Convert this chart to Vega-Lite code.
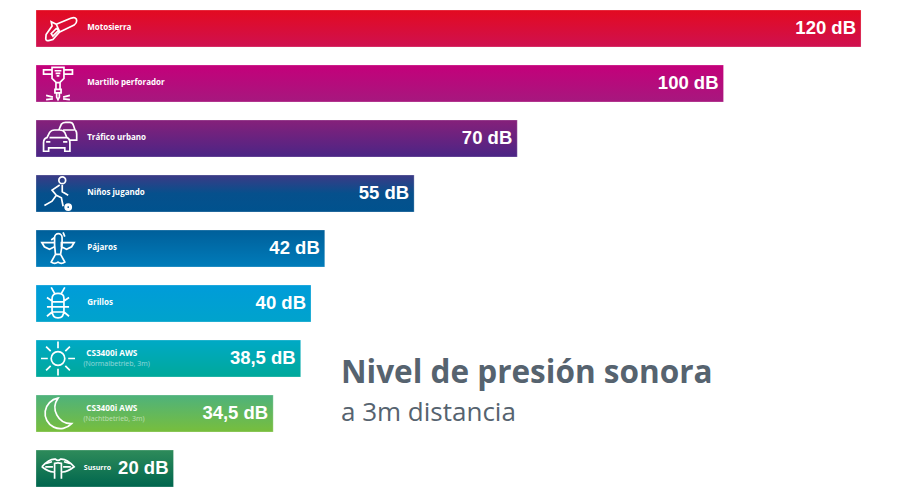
{
  "$schema": "https://vega.github.io/schema/vega-lite/v6.json",
  "description": "Nivel de presion sonora a 3m de distancia",
  "background": "#ffffff",
  "width": 864,
  "height": 477,
  "autosize": "none",
  "padding": {"left": 36, "top": 10, "right": 0, "bottom": 6},
  "config": {"view": {"stroke": null}},
  "data": {"values": [
    {"nombre": "Motosierra", "linea": "Motosierra", "db": 120, "etiqueta": "120 dB"},
    {"nombre": "Martillo perforador", "linea": "Martillo perforador", "db": 100, "etiqueta": "100 dB"},
    {"nombre": "Tráfico urbano", "linea": "Tráfico urbano", "db": 70, "etiqueta": "70 dB"},
    {"nombre": "Niños jugando", "linea": "Niños jugando", "db": 55, "etiqueta": "55 dB"},
    {"nombre": "Pájaros", "linea": "Pájaros", "db": 42, "etiqueta": "42 dB"},
    {"nombre": "Grillos", "linea": "Grillos", "db": 40, "etiqueta": "40 dB"},
    {"nombre": "CS3400i dia", "linea": "CS3400i AWS", "sub": "(Normalbetrieb, 3m)", "db": 38.5, "etiqueta": "38,5 dB"},
    {"nombre": "CS3400i noche", "linea": "CS3400i AWS", "sub": "(Nachtbetrieb, 3m)", "db": 34.5, "etiqueta": "34,5 dB"},
    {"nombre": "Susurro", "linea": "Susurro", "db": 20, "etiqueta": "20 dB"}
  ]},
  "encoding": {
    "y": {
      "field": "nombre",
      "type": "nominal",
      "axis": null,
      "scale": {
        "domain": ["Motosierra", "Martillo perforador", "Tráfico urbano", "Niños jugando", "Pájaros", "Grillos", "CS3400i dia", "CS3400i noche", "Susurro"],
        "paddingInner": 0.327,
        "paddingOuter": 0
      }
    },
    "x": {"field": "db", "type": "quantitative", "axis": null, "scale": {"domain": [0, 125.67], "nice": false}}
  },
  "layer": [
    {
      "transform": [{"filter": "datum.nombre === 'Motosierra'"}],
      "mark": {"type": "bar", "stroke": "#ffffff", "strokeOpacity": 0.25, "color": {"gradient": "linear", "x1": 0, "y1": 0, "x2": 0, "y2": 1, "stops": [{"offset": 0, "color": "#e30a20"}, {"offset": 1, "color": "#cf1150"}]}}
    },
    {
      "transform": [{"filter": "datum.nombre === 'Martillo perforador'"}],
      "mark": {"type": "bar", "stroke": "#ffffff", "strokeOpacity": 0.25, "color": {"gradient": "linear", "x1": 0, "y1": 0, "x2": 0, "y2": 1, "stops": [{"offset": 0, "color": "#c4007a"}, {"offset": 1, "color": "#a6187e"}]}}
    },
    {
      "transform": [{"filter": "datum.nombre === 'Tráfico urbano'"}],
      "mark": {"type": "bar", "stroke": "#ffffff", "strokeOpacity": 0.25, "color": {"gradient": "linear", "x1": 0, "y1": 0, "x2": 0, "y2": 1, "stops": [{"offset": 0, "color": "#86207a"}, {"offset": 1, "color": "#4a2585"}]}}
    },
    {
      "transform": [{"filter": "datum.nombre === 'Niños jugando'"}],
      "mark": {"type": "bar", "stroke": "#ffffff", "strokeOpacity": 0.25, "color": {"gradient": "linear", "x1": 0, "y1": 0, "x2": 0, "y2": 1, "stops": [{"offset": 0, "color": "#3c3a86"}, {"offset": 0.5, "color": "#06508c"}, {"offset": 1, "color": "#00528e"}]}}
    },
    {
      "transform": [{"filter": "datum.nombre === 'Pájaros'"}],
      "mark": {"type": "bar", "stroke": "#ffffff", "strokeOpacity": 0.25, "color": {"gradient": "linear", "x1": 0, "y1": 0, "x2": 0, "y2": 1, "stops": [{"offset": 0, "color": "#005f9a"}, {"offset": 1, "color": "#007cba"}]}}
    },
    {
      "transform": [{"filter": "datum.nombre === 'Grillos'"}],
      "mark": {"type": "bar", "stroke": "#ffffff", "strokeOpacity": 0.25, "color": {"gradient": "linear", "x1": 0, "y1": 0, "x2": 0, "y2": 1, "stops": [{"offset": 0, "color": "#009cd9"}, {"offset": 1, "color": "#00a3cc"}]}}
    },
    {
      "transform": [{"filter": "datum.nombre === 'CS3400i dia'"}],
      "mark": {"type": "bar", "stroke": "#ffffff", "strokeOpacity": 0.25, "color": {"gradient": "linear", "x1": 0, "y1": 0, "x2": 0, "y2": 1, "stops": [{"offset": 0, "color": "#00a9c6"}, {"offset": 1, "color": "#00a99a"}]}}
    },
    {
      "transform": [{"filter": "datum.nombre === 'CS3400i noche'"}],
      "mark": {"type": "bar", "stroke": "#ffffff", "strokeOpacity": 0.25, "color": {"gradient": "linear", "x1": 0, "y1": 0, "x2": 0, "y2": 1, "stops": [{"offset": 0, "color": "#4eb27c"}, {"offset": 1, "color": "#78be3c"}]}}
    },
    {
      "transform": [{"filter": "datum.nombre === 'Susurro'"}],
      "mark": {"type": "bar", "stroke": "#ffffff", "strokeOpacity": 0.25, "color": {"gradient": "linear", "x1": 0, "y1": 0, "x2": 0, "y2": 1, "stops": [{"offset": 0, "color": "#2e8b5a"}, {"offset": 1, "color": "#00664e"}]}}
    },
    {
      "mark": {"type": "point", "filled": false, "stroke": "#ffffff", "strokeWidth": 1.7, "size": 1156, "opacity": 1},
      "encoding": {
        "x": {"datum": 3.2, "type": "quantitative"},
        "shape": {
          "field": "nombre",
          "type": "nominal",
          "legend": null,
          "scale": {
            "domain": ["Motosierra", "Martillo perforador", "Tráfico urbano", "Niños jugando", "Pájaros", "Grillos", "CS3400i dia", "CS3400i noche", "Susurro"],
            "range": [
              "M-0.1,-0.25L0.75,-0.6Q1.1,-0.72 1.1,-0.45Q1.1,-0.3 0.95,-0.2L0.1,0.2M-0.1,-0.25L-0.4,-0.4L-0.35,-0.15L-0.7,0.35L-0.72,0.6Q-0.72,0.75 -0.5,0.7L-0.3,0.65L0.1,0.2ZM-0.4,0.3L-0.1,0L0.05,0.1L-0.3,0.45Z",
              "M-0.85,-0.8H-0.35V-0.55H-0.85ZM0.35,-0.8H0.85V-0.55H0.35ZM-0.35,-0.95H0.35V-0.3L0.1,-0.05H-0.1L-0.35,-0.3ZM-0.12,-0.05V0.35H0.12V-0.05M-0.18,0.35H0.18V0.55H-0.18ZM-0.08,0.55V0.8L0,0.95L0.08,0.8V0.55M-0.7,0.7L-0.3,0.8M-0.7,0.95L-0.3,0.9M0.7,0.7L0.3,0.8M0.7,0.95L0.3,0.9M-0.2,-0.75H0.2M-0.14,-0.6H0.14M-0.08,-0.45H0.08",
              "M-0.85,0.75V0.25Q-0.85,0 -0.65,-0.05L-0.5,-0.35Q-0.4,-0.5 -0.2,-0.5H0.1Q0.3,-0.5 0.4,-0.35L0.52,-0.05Q0.7,0 0.7,0.25V0.75H0.4V0.55H-0.55V0.75ZM-0.5,-0.05H0.5M-0.7,0.2H-0.45M0.3,0.2H0.55M0.05,-0.5L0.2,-0.85Q0.3,-0.95 0.45,-0.95H0.7Q0.85,-0.95 0.9,-0.8L1,-0.5Q1.1,-0.45 1.1,-0.25V0.1H0.7M0.3,-0.5H0.95",
              "M0.05,-0.78a0.2,0.2 0 1,0 0.4,0a0.2,0.2 0 1,0 -0.4,0M0.1,-0.5L-0.35,-0.2L-0.1,0.1L-0.35,0.45L-0.8,0.7M0.25,-0.5L0.25,-0.1L0.6,0.1M-0.1,0.1L0.2,0.25L0.3,0.75M0.5,0.8a0.1,0.1 0 1,0 0.2,0a0.1,0.1 0 1,0 -0.2,0M0.42,0.8a0.18,0.18 0 1,0 0.36,0a0.18,0.18 0 1,0 -0.36,0",
              "M-0.2,-0.65a0.22,0.22 0 1,1 0.44,0V-0.2L0.15,0.35H-0.15L-0.2,-0.2ZM-0.2,-0.65L-0.4,-0.5M-0.95,-0.35H-0.2V-0.1L-0.5,0.05L-0.8,-0.1ZM0.95,-0.35H0.2V-0.1L0.5,0.05L0.8,-0.1ZM-0.15,0.35L-0.4,0.8Q-0.2,0.95 0,0.8Q0.2,0.95 0.4,0.8L0.15,0.35M0.3,-0.95L0.4,-0.7",
              "M-0.35,-0.3Q-0.35,-0.6 0,-0.6Q0.35,-0.6 0.35,-0.3V0.4Q0.35,0.85 0,0.85Q-0.35,0.85 -0.35,0.4ZM-0.2,-0.6L-0.4,-0.95M0.2,-0.6L0.4,-0.95M-0.35,-0.15L-0.65,-0.35M0.35,-0.15L0.65,-0.35M-0.35,0.2H-0.65M0.35,0.2H0.65M-0.35,0.5L-0.65,0.75M0.35,0.5L0.65,0.75M-0.35,-0.1H0.35M-0.35,0.2H0.35M-0.35,0.5H0.35",
              "M-0.4,0a0.4,0.4 0 1,0 0.8,0a0.4,0.4 0 1,0 -0.8,0M0,-0.6V-1M0,0.6V1M-0.6,0H-1M0.6,0H1M-0.43,-0.43L-0.7,-0.7M0.43,-0.43L0.7,-0.7M-0.43,0.43L-0.7,0.7M0.43,0.43L0.7,0.7",
              "M0,-0.9A0.9,0.9 0 1,0 0.8,0.6A0.95,0.95 0 0,1 0,-0.9Z",
              "M-0.95,-0.1Q-0.5,-0.6 -0.15,-0.55Q0,-0.4 0.15,-0.55Q0.5,-0.6 0.95,-0.1Q0.5,0.25 0.2,0.2V-0.3M-0.95,-0.1Q-0.5,0.25 -0.2,0.2V-0.3M-0.75,-0.1H-0.3M0.75,-0.1H0.3M-0.2,0.6V-0.3Q0,-0.35 0.2,-0.3V0.6M-0.7,-0.3L-0.35,-0.4M0.7,-0.3L0.35,-0.4"
            ]
          }
        }
      }
    },
    {
      "transform": [{"filter": "!datum.sub && datum.nombre !== 'Susurro'"}],
      "mark": {"type": "text", "align": "left", "baseline": "middle", "dy": -0.5, "font": "Open Sans", "fontWeight": "bold", "fontSize": 8, "color": "#ffffff"},
      "encoding": {
        "x": {"datum": 7.45, "type": "quantitative"},
        "text": {"field": "linea"}
      }
    },
    {
      "transform": [{"filter": "datum.nombre === 'Susurro'"}],
      "mark": {"type": "text", "align": "left", "baseline": "middle", "dy": -0.5, "font": "Open Sans", "fontWeight": "bold", "fontSize": 7, "color": "#ffffff"},
      "encoding": {
        "x": {"datum": 6.95, "type": "quantitative"},
        "text": {"field": "linea"}
      }
    },
    {
      "transform": [{"filter": "datum.sub"}],
      "mark": {"type": "text", "align": "left", "baseline": "middle", "dy": -4.5, "font": "Open Sans", "fontWeight": "bold", "fontSize": 8.2, "color": "#ffffff"},
      "encoding": {
        "x": {"datum": 7.3, "type": "quantitative"},
        "text": {"field": "linea"}
      }
    },
    {
      "transform": [{"filter": "datum.sub"}],
      "mark": {"type": "text", "align": "left", "baseline": "middle", "dy": 6, "font": "Open Sans", "fontSize": 7, "color": "#ffffff", "opacity": 0.55},
      "encoding": {
        "x": {"datum": 6.9, "type": "quantitative"},
        "text": {"field": "sub"}
      }
    },
    {
      "mark": {"type": "text", "align": "right", "baseline": "middle", "dx": -5, "dy": -0.5, "font": "Liberation Sans", "fontWeight": "bold", "fontSize": 18.5, "color": "#ffffff"},
      "encoding": {
        "text": {"field": "etiqueta"}
      }
    },
    {
      "data": {"values": [{"nombre": "CS3400i dia", "db": 44.36, "titulo": "Nivel de presión sonora"}]},
      "mark": {"type": "text", "align": "left", "baseline": "middle", "dy": 15.5, "font": "Open Sans", "fontWeight": "bold", "fontSize": 31.5, "color": "#56636f"},
      "encoding": {
        "text": {"field": "titulo"}
      }
    },
    {
      "data": {"values": [{"nombre": "CS3400i noche", "db": 44.36, "titulo": "a 3m distancia"}]},
      "mark": {"type": "text", "align": "left", "baseline": "middle", "dy": 0, "font": "Open Sans", "fontSize": 26, "color": "#56636f"},
      "encoding": {
        "text": {"field": "titulo"}
      }
    }
  ]
}
